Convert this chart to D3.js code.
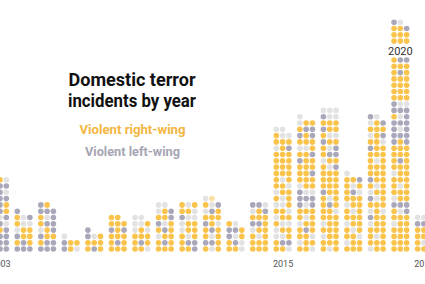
<!DOCTYPE html>
<html>
<head>
<meta charset="utf-8">
<script src="https://cdn.jsdelivr.net/npm/d3@7"></script>
<style>
body { margin: 0; background: #fff; }
svg { display: block; font-family: Roboto, "Open Sans", sans-serif; }
</style>
</head>
<body>
<svg id="chart"></svg>
<script>
var width = 425;
var height = 284;

var years = [2003, 2004, 2005, 2006, 2007, 2008, 2009, 2010, 2011, 2012,
             2013, 2014, 2015, 2016, 2017, 2018, 2019, 2020, 2021];

// one letter per incident, bottom row first, left to right
// R = violent right-wing, L = violent left-wing, O = other, P = other (highlighted)
var incidents = [
  "LLL OLL LLL LRL RLO LOL LLR OLR LLL LLO LLL ORO",
  "LLL RLR LRR ORR ROO ROL L",
  "LLL RLL LRR ORL RLL ROL LLL LR",
  "LRO LRR O",
  "RLR RRR LOR L",
  "RRR RLR RRR LRL RRR RR",
  "RRO RLR RRR ORO OOR OO",
  "RRR RLR ORR RLR LOR RRL ORL OO",
  "RRL RLL ROR ORR ORR LOO RRO ROR",
  "ROR LLR ROR RLR LRO RRR OLR ROL OP",
  "RRO RLO LOR LLR RO",
  "RRR RRR ROR ORR LLR RRR ORL LLO",
  "RRO RLL OOR ORR ROO ORR RRO OOR ROR ORR RRO ROR RRR RRR RRR RRR ORL RRR ROO OO",
  "RRO ORR RRO RLR ORR ROR RRR LOL LLL LOO ORR RRR RRL RRR LRR RRL OOR RRR LRL RLL ORR O",
  "ROR RRR ORR RRR ORR RRR RRO RLR ROR LRR RRR RRR RRR ROL ORR RLL ROL LRR ROO LRR RRR LOO OOO",
  "RRR ORR RRO ROR ORR RRR ROR ORR RRR RLO ROR RRL O",
  "ORR RRR ROR RRR ORR LRR ORO RRR LOR ORR ROR LRR RRR RRR ROR RRR LRR RRO ORL RRR ORL LO",
  "RRR RRR RRR RRR ORR RRR ROL LLL ORR RRR ROR RRR ORR RRR RLR RRR RRR LRL LLL LOL LLL ROL LLL LOO RRR RRR RRR RRR RLR RRR RLL RRR RRR RRR RRR RRL LO",
  "RRR ROR RRR RRO LLR OO"
];

var tickYears = [2003, 2015, 2021];
var highlightYear = 2020;
var titleLines = ["Domestic terror", "incidents by year"];
var legendLabels = ["Violent right-wing", "Violent left-wing"];

var svg = d3.select("#chart")
  .attr("width", width)
  .attr("height", height);

var x = d3.scaleLinear().domain([2003, 2021]).range([0, 423.9]);
var col = d3.scalePoint().domain([0, 1, 2]).range([-6.3, 6.3]);
var y = d3.scaleLinear().domain([0, 40]).range([249, 249 - 40 * 6.3]);
var color = d3.scaleOrdinal()
  .domain(["R", "L", "O", "P"])
  .range(["#fac34b", "#a9a7ba", "#e2e2e2", "#fcdfa6"]);

var dots = [];
years.forEach(function(yr, i) {
  var s = incidents[i].replace(/ /g, "");
  for (var k = 0; k < s.length; k++) {
    dots.push({year: yr, row: Math.floor(k / 3), col: k % 3, type: s[k]});
  }
});

svg.append("g")
  .selectAll("circle")
  .data(dots)
  .enter()
  .append("circle")
  .attr("cx", function(d) { return x(d.year) + col(d.col); })
  .attr("cy", function(d) { return y(d.row); })
  .attr("r", 2.8)
  .style("fill", function(d) { return color(d.type); });

// year axis
var axis = svg.append("g")
  .attr("transform", "translate(0,257.5)")
  .call(d3.axisBottom(x).tickValues(tickYears).tickFormat(d3.format("d")).tickSize(0));
axis.select(".domain").remove();
axis.selectAll("text")
  .style("font-family", "Roboto, sans-serif")
  .style("font-size", "9px")
  .style("fill", "#555");

// 2020 label over its column
var hi = svg.append("g");
hi.append("rect")
  .attr("x", x(highlightYear) - 15)
  .attr("y", 44)
  .attr("width", 30)
  .attr("height", 13)
  .style("fill", "#fff");
hi.append("text")
  .attr("x", x(highlightYear))
  .attr("y", 55)
  .attr("text-anchor", "middle")
  .style("font-size", "11px")
  .style("fill", "#333")
  .text(highlightYear);

// title
var titleWidths = [127, 128];
svg.selectAll(".title")
  .data(titleLines)
  .enter()
  .append("text")
  .attr("class", "title")
  .attr("x", 132)
  .attr("y", function(d, i) { return 86 + i * 21; })
  .attr("text-anchor", "middle")
  .attr("textLength", function(d, i) { return titleWidths[i]; })
  .attr("lengthAdjust", "spacingAndGlyphs")
  .style("font-size", "19px")
  .style("font-weight", "700")
  .style("fill", "#111")
  .text(function(d) { return d; });

// legend
var legendWidths = [106, 95];
var legendColors = ["#f3b640", "#a6a5b3"];
svg.selectAll(".legend")
  .data(legendLabels)
  .enter()
  .append("text")
  .attr("class", "legend")
  .attr("x", 132.5)
  .attr("y", function(d, i) { return 134 + i * 22; })
  .attr("text-anchor", "middle")
  .attr("textLength", function(d, i) { return legendWidths[i]; })
  .attr("lengthAdjust", "spacingAndGlyphs")
  .style("font-size", "13px")
  .style("font-weight", "700")
  .style("fill", function(d, i) { return legendColors[i]; })
  .text(function(d) { return d; });
</script>
</body>
</html>
